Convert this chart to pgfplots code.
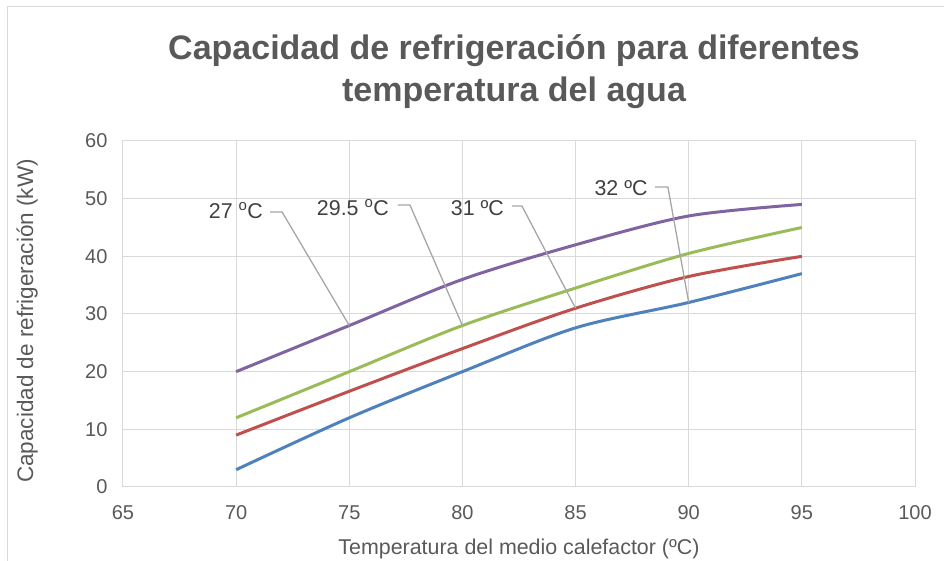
\documentclass[border=0pt]{standalone}
\usepackage{pgfplots}
\pgfplotsset{compat=1.18}
\usepackage{fontspec}
\setmainfont{Liberation Sans}

\definecolor{gridgray}{HTML}{D9D9D9}
\definecolor{textgray}{HTML}{595959}
\definecolor{calloutgray}{HTML}{404040}
\definecolor{leadergray}{HTML}{A6A6A6}
\definecolor{serpurple}{HTML}{8064A2}
\definecolor{sergreen}{HTML}{9BBB59}
\definecolor{serred}{HTML}{C0504D}
\definecolor{serblue}{HTML}{4F81BD}

% Cooling capacity (kW) vs. heating medium temperature (ºC), per water temperature
\pgfplotstableread{
x   y
70  20
75  28
80  36
85  42
90  47
95  49
}\tblA
\pgfplotstableread{
x   y
70  12
75  20
80  28
85  34.5
90  40.5
95  45
}\tblB
\pgfplotstableread{
x   y
70  9
75  16.6
80  24
85  31
90  36.5
95  40
}\tblC
\pgfplotstableread{
x   y
70  3
75  12
80  20
85  27.6
90  32
95  37
}\tblD

\begin{document}
\begin{tikzpicture}
\useasboundingbox (0,0) rectangle (944pt,561pt);
% chart frame
\draw[gridgray, line width=1pt] (7pt,0) -- (7pt,554pt) -- (944pt,554pt);

% title
\node[font=\fontsize{34}{42}\selectfont\bfseries, text=textgray, align=center]
  at (514pt,489.5pt) {Capacidad de refrigeración para diferentes\\temperatura del agua};

\begin{axis}[
  scale only axis,
  width=792pt, height=346pt,
  at={(123pt,74pt)}, anchor=south west,
  xmin=65, xmax=100, ymin=0, ymax=60,
  xtick distance=5, ytick distance=10,
  grid=major,
  grid style={draw=gridgray, line width=1pt},
  axis line style={draw=gridgray, line width=1pt},
  major tick length=0pt,
  tick label style={font=\fontsize{20}{24}\selectfont, text=textgray},
  /pgf/number format/assume math mode=true,
  xticklabel style={yshift=-15pt},
  yticklabel style={xshift=-12pt},
  xlabel={Temperatura del medio calefactor (ºC)},
  ylabel={Capacidad de refrigeración (kW)},
  xlabel style={font=\fontsize{21.4}{25}\selectfont, text=textgray,
                at={(axis description cs:0.5,-0.179)}, anchor=center},
  ylabel style={font=\fontsize{22.5}{26}\selectfont, text=textgray,
                at={(axis description cs:-0.121,0.48)}, anchor=center},
  clip=false,
]
\addplot[serpurple, line width=3pt, smooth] table[x=x,y=y] {\tblA};
\addplot[sergreen,  line width=3pt, smooth] table[x=x,y=y] {\tblB};
\addplot[serred,    line width=3pt, smooth] table[x=x,y=y] {\tblC};
\addplot[serblue,   line width=3pt, smooth] table[x=x,y=y] {\tblD};

% callout labels with leader lines
\draw[leadergray, line width=1.3pt] (axis cs:71.50,47.69) -- (axis cs:72.03,47.69) -- (axis cs:75,28);
\draw[leadergray, line width=1.3pt] (axis cs:77.15,48.90) -- (axis cs:77.68,48.90) -- (axis cs:80,28);
\draw[leadergray, line width=1.3pt] (axis cs:82.19,48.72) -- (axis cs:82.63,48.72) -- (axis cs:85,31);
\draw[leadergray, line width=1.3pt] (axis cs:88.51,52.02) -- (axis cs:89.08,52.02) -- (axis cs:90,32);
\tikzset{callout/.style={font=\fontsize{21.4}{25}\selectfont, text=calloutgray, inner sep=0pt}}
\node[callout] at (axis cs:69.99,47.95) {27 \textsuperscript{o}C};
\node[callout] at (axis cs:75.16,48.47) {29.5 \textsuperscript{o}C};
\node[callout] at (axis cs:80.66,48.29) {31 ºC};
\node[callout] at (axis cs:87.01,51.85) {32 ºC};
\end{axis}
\end{tikzpicture}
\end{document}
